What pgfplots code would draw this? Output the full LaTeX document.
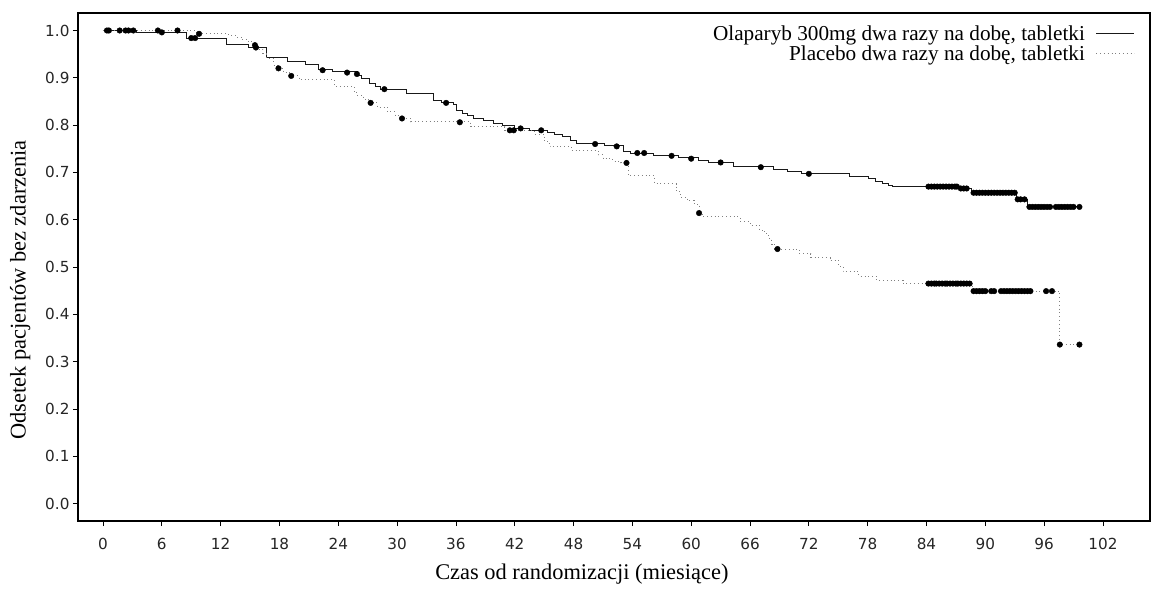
\documentclass[border=0pt]{standalone}
\usepackage{fontspec}
\setmainfont{Liberation Serif}
\newfontfamily\tickfont{DejaVu Sans}
\usepackage{pgfplots}
\pgfplotsset{compat=1.18}
\definecolor{placebogray}{HTML}{808080}
\begin{document}
\begin{tikzpicture}
\begin{axis}[
  scale only axis, width=1072bp, height=508bp,
  xmin=-2.55, xmax=106.8, ymin=-0.037, ymax=1.037,
  xtick={0,6,12,18,24,30,36,42,48,54,60,66,72,78,84,90,96,102},
  ytick={0,0.1,0.2,0.3,0.4,0.5,0.6,0.7,0.8,0.9,1.0},
  yticklabel style={/pgf/number format/.cd, fixed, fixed zerofill, precision=1},
  /pgf/number format/assume math mode=true,
  ticklabel style={font=\tickfont\fontsize{15.3}{18}\selectfont, text=black!85},
  xticklabel style={yshift=-9bp},
  xtick pos=left, ytick pos=left,
  tick align=outside, major tick length=5bp,
  tick style={black, line width=0.8bp},
  axis line style={line width=1.3bp},
  label style={font=\fontsize{22.5}{25}\selectfont},
  xlabel={Czas od randomizacji (miesiące)},
  ylabel={Odsetek pacjentów bez zdarzenia},
  xlabel style={at={(axis description cs:0.47,-0.116)}, anchor=base},
  ylabel style={at={(axis description cs:-0.054,0.455)}, anchor=center},
  legend style={draw=none, fill=none, inner sep=0pt, at={(axis description cs:0.986,0.978)}, anchor=north east,
    font=\fontsize{21.3}{22}\selectfont, row sep=2bp, column sep=10bp, nodes={inner sep=1bp}},
  legend cell align=right,
  legend plot pos=right,
  legend image code/.code={\draw[#1] (0bp,0bp) -- (38bp,0bp);},
]
% Olaparib
\addplot[const plot, black!90, line width=0.9bp] coordinates {
(0,1.0) (3.4,0.996) (8.5,0.984) (12.6,0.971) (14.8,0.964) (16.7,0.944) (18.8,0.935)
(20.6,0.929) (22.0,0.917) (23.4,0.913) (26.0,0.905) (26.4,0.899) (27.2,0.888) (27.8,0.882)
(28.3,0.876) (31.0,0.867) (33.7,0.852) (34.5,0.847) (35.7,0.843) (36.1,0.832) (36.7,0.825)
(37.2,0.820) (37.8,0.815) (38.8,0.810) (39.8,0.804) (40.7,0.800) (42.0,0.793) (43.5,0.789)
(45.3,0.784) (46.1,0.780) (46.9,0.775) (47.7,0.768) (48.3,0.762) (51.2,0.756) (53.1,0.745)
(53.8,0.741) (56.1,0.736) (58.7,0.731) (60.7,0.726) (61.8,0.721) (64.3,0.713) (68.4,0.706)
(69.8,0.703) (71.2,0.698) (76.1,0.692) (78.1,0.687) (78.8,0.681) (79.5,0.677) (80.1,0.673)
(80.5,0.670) (87.3,0.666) (88.6,0.657) (93.2,0.643) (94.3,0.627) (99.6,0.627)
};
\addlegendentry{Olaparyb 300mg dwa razy na dobę, tabletki}
% Placebo
\addplot[const plot, placebogray, line width=0.9bp, dash pattern=on 1bp off 2.8bp] coordinates {
(0,1.0) (9.5,0.993) (12.8,0.990) (13.6,0.986) (14.2,0.981) (14.8,0.976) (15.3,0.969)
(15.9,0.960) (16.3,0.951) (16.7,0.941) (17.4,0.927) (17.8,0.920) (18.4,0.912) (19.0,0.904)
(20.0,0.896) (23.6,0.882) (25.6,0.872) (25.9,0.863) (26.6,0.855) (27.1,0.847) (28.0,0.838)
(29.0,0.828) (29.8,0.820) (30.3,0.814) (31.4,0.807) (37.5,0.797) (41.0,0.789) (44.0,0.781)
(45.0,0.768) (45.3,0.761) (45.6,0.754) (47.8,0.746) (50.5,0.737) (51.0,0.729) (52.0,0.724)
(52.8,0.720) (53.6,0.693) (56.3,0.676) (58.5,0.659) (58.9,0.648) (59.6,0.641) (60.3,0.634)
(60.6,0.630) (60.8,0.616) (61.1,0.606) (65.0,0.596) (66.0,0.588) (67.0,0.578) (67.5,0.570)
(67.9,0.561) (68.2,0.548) (68.5,0.538) (71.0,0.528) (72.2,0.520) (74.2,0.514) (75.0,0.502)
(75.5,0.490) (77.1,0.481) (78.9,0.472) (81.6,0.465) (88.7,0.449) (97.6,0.336) (99.6,0.336)
};
\addlegendentry{Placebo dwa razy na dobę, tabletki}
% censor marks
\addplot[only marks, mark=*, mark size=2.8bp, black, forget plot] coordinates {
(0.4,1) (0.6,1) (1.7,1) (2.3,1) (2.6,1) (3.1,1) (5.6,1.0) (6.0,0.996) (7.6,1.0)
(9.0,0.984) (9.4,0.984) (9.8,0.993) (15.6,0.964) (15.5,0.969) (17.9,0.920) (19.2,0.904)
(22.4,0.916) (24.9,0.911) (25.9,0.908) (28.7,0.876) (35.0,0.847)
(27.3,0.847) (30.5,0.814) (36.4,0.806) (41.5,0.789) (41.9,0.789)
(42.6,0.793) (44.7,0.789)
(50.2,0.760) (52.4,0.755) (54.5,0.741) (55.2,0.741) (58.0,0.735) (60.0,0.729) (63.0,0.721)
(67.1,0.711) (72.0,0.697)
(53.4,0.720) (60.8,0.614) (68.8,0.538)
(84.2,0.670) (84.5,0.670) (84.8,0.670) (85.1,0.670) (85.4,0.670) (85.7,0.670) (86.0,0.670)
(86.3,0.670) (86.6,0.670) (86.9,0.670) (87.1,0.670) (87.5,0.666) (87.8,0.666) (88.1,0.666)
(88.8,0.657) (89.1,0.657) (89.4,0.657) (89.7,0.657) (90.0,0.657) (90.3,0.657) (90.6,0.657)
(90.9,0.657) (91.2,0.657) (91.5,0.657) (91.8,0.657) (92.1,0.657) (92.4,0.657) (92.7,0.657)
(93.0,0.657) (93.3,0.643) (93.6,0.643) (94.0,0.643)
(94.5,0.627) (94.8,0.627) (95.1,0.627) (95.4,0.627) (95.7,0.627) (96.0,0.627) (96.3,0.627)
(96.6,0.627) (97.2,0.627) (97.5,0.627) (97.8,0.627) (98.1,0.627) (98.4,0.627) (98.7,0.627)
(99.0,0.627) (99.6,0.627)
(84.2,0.465) (84.5,0.465) (84.8,0.465) (85.0,0.465) (85.3,0.465) (85.6,0.465) (85.9,0.465)
(86.1,0.465) (86.4,0.465) (86.7,0.465) (87.0,0.465) (87.2,0.465) (87.5,0.465) (87.8,0.465)
(88.1,0.465) (88.4,0.465)
(88.8,0.449) (89.1,0.449) (89.4,0.449) (89.7,0.449) (90.0,0.449) (90.6,0.449) (90.9,0.449)
(91.6,0.449) (91.9,0.449) (92.2,0.449) (92.5,0.449) (92.8,0.449) (93.1,0.449) (93.4,0.449)
(93.7,0.449) (94.0,0.449) (94.3,0.449) (94.6,0.449) (96.2,0.449) (96.8,0.449)
(97.6,0.336) (99.6,0.336)
};
\end{axis}
\pgfresetboundingbox
\useasboundingbox ([shift={(-78bp,-71bp)}]current axis.south west) rectangle ([shift={(3bp,13bp)}]current axis.north east);
\end{tikzpicture}
\end{document}
